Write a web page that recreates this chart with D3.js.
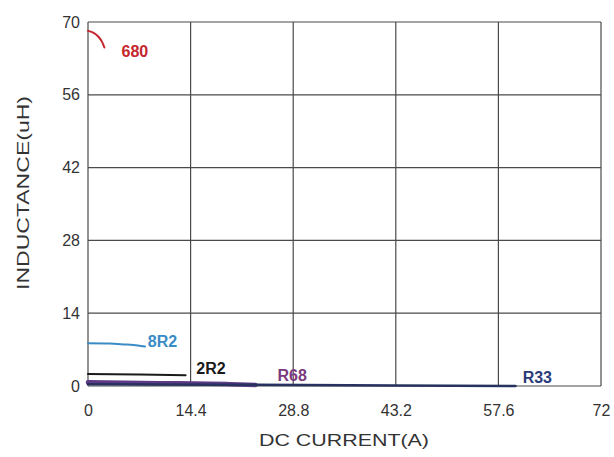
<!DOCTYPE html>
<html><head><meta charset="utf-8">
<script src="https://cdn.jsdelivr.net/npm/d3@7"></script>
<style>body{margin:0;background:#fff;}svg{display:block;}</style>
</head><body>
<svg id="c" width="614" height="457"></svg>
<script>
const xTicks = [0, 14.4, 28.8, 43.2, 57.6, 72];
const yTicks = [0, 14, 28, 42, 56, 70];
const xTickLabels = ["0", "14.4", "28.8", "43.2", "57.6", "72"];
const yTickLabels = ["0", "14", "28", "42", "56", "70"];
const seriesNames = ["680", "8R2", "2R2", "R68", "R33"];
const s680 = [[0, 68.3], [0.8, 68.0], [1.5, 67.2], [2.0, 66.2], [2.3, 65.1]];
const s8R2 = [[0, 8.2], [3, 8.15], [5, 8.0], [7, 7.8], [8, 7.6]];
const s2R2 = [[0, 2.3], [7, 2.2], [13.7, 2.05]];
const sR68 = [[0, 0.7], [10, 0.55], [20, 0.35], [23.5, 0.2]];
const sR33 = [[0, 0.35], [20, 0.25], [43.2, 0.12], [60, 0.0]];
const colors = ["#c4262e", "#3a8cc6", "#1a1a1a", "#5e3a86", "#27335e"];
const widths = [2, 2, 2, 4.5, 2.5];
const labelPos = [[4.7, 63.3], [8.4, 7.5], [15.2, 2.3], [26.6, 0.95], [61, 0.65]];
const labelColors = ["#c4262e", "#3a8cc6", "#1a1a1a", "#7b3a7e", "#2b3b78"];

const svg = d3.select("#c");
const m = {l: 88, r: 601, t: 22, b: 386};
const x = d3.scaleLinear().domain([0, 72]).range([m.l, m.r]);
const y = d3.scaleLinear().domain([0, 70]).range([m.b, m.t]);

// grid
svg.append("g").selectAll("line.v").data(xTicks).join("line")
  .attr("x1", d => x(d)).attr("x2", d => x(d)).attr("y1", m.t).attr("y2", m.b)
  .attr("stroke", "#4a4a4a").attr("stroke-width", 1.2);
svg.append("g").selectAll("line.h").data(yTicks).join("line")
  .attr("x1", m.l).attr("x2", m.r).attr("y1", d => y(d)).attr("y2", d => y(d))
  .attr("stroke", "#4a4a4a").attr("stroke-width", 1.2);

// axes labels
const xAxis = d3.axisBottom(x).tickValues(xTicks).tickSize(0).tickPadding(0)
  .tickFormat((d, i) => xTickLabels[i]);
const gx = svg.append("g").attr("transform", `translate(0,${m.b + 19})`).call(xAxis);
gx.select(".domain").remove();
gx.selectAll("text").attr("font-family", "Liberation Sans, Arial, sans-serif")
  .attr("font-size", 16).attr("fill", "#333").attr("dy", "0.71em");

const yAxis = d3.axisLeft(y).tickValues(yTicks).tickSize(0).tickPadding(0)
  .tickFormat((d, i) => yTickLabels[i]);
const gy = svg.append("g").attr("transform", `translate(${m.l - 8},0)`).call(yAxis);
gy.select(".domain").remove();
gy.selectAll("text").attr("font-family", "Liberation Sans, Arial, sans-serif")
  .attr("font-size", 16).attr("fill", "#333");

// titles
svg.append("text").attr("x", 344).attr("y", 446).attr("text-anchor", "middle")
  .attr("font-family", "Liberation Sans, Arial, sans-serif").attr("font-size", 16)
  .attr("fill", "#333").attr("textLength", 170).attr("lengthAdjust", "spacingAndGlyphs")
  .text("DC CURRENT(A)");
svg.append("text").attr("transform", "translate(29,193) rotate(-90)").attr("text-anchor", "middle")
  .attr("font-family", "Liberation Sans, Arial, sans-serif").attr("font-size", 16)
  .attr("fill", "#333").attr("textLength", 194).attr("lengthAdjust", "spacingAndGlyphs")
  .text("INDUCTANCE(uH)");

// series
const line = d3.line().x(d => x(d[0])).y(d => y(d[1])).curve(d3.curveMonotoneX);
const allSeries = [s680, s8R2, s2R2, sR68, sR33];
svg.append("g").selectAll("path").data(allSeries).join("path")
  .attr("d", (d, i) => i === 0 ? d3.line().x(p => x(p[0])).y(p => y(p[1])).curve(d3.curveBasis)(d) : line(d))
  .attr("fill", "none").attr("stroke", (d, i) => colors[i]).attr("stroke-width", (d, i) => widths[i])
  .attr("stroke-linecap", "round");

// labels
svg.append("g").selectAll("text").data(seriesNames).join("text")
  .attr("x", (d, i) => x(labelPos[i][0])).attr("y", (d, i) => y(labelPos[i][1]))
  .attr("font-family", "Liberation Sans, Arial, sans-serif").attr("font-size", 16)
  .attr("font-weight", "bold").attr("fill", (d, i) => labelColors[i])
  .text(d => d);
</script>
</body></html>
